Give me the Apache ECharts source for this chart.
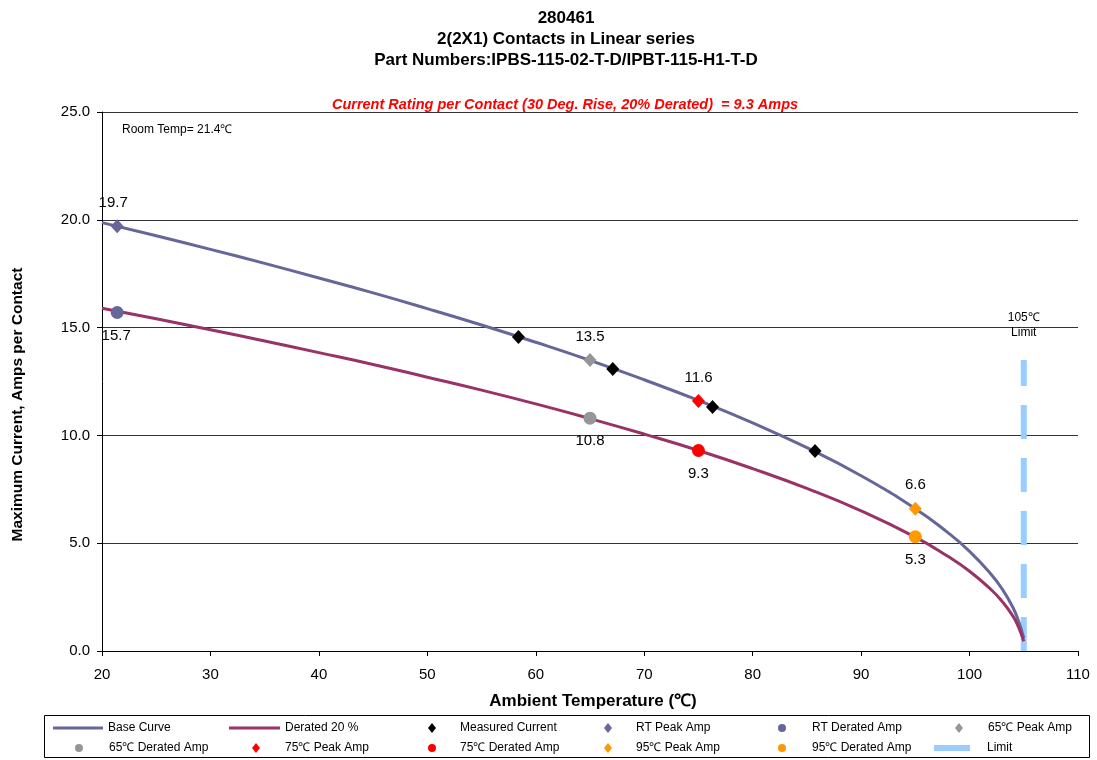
<!DOCTYPE html>
<html><head><meta charset="utf-8">
<script src="https://cdn.jsdelivr.net/npm/echarts@6/dist/echarts.min.js"></script>
<style>html,body{margin:0;padding:0;background:#fff}#c{width:1097px;height:760px}</style>
</head><body><div id="c"></div>
<script>
// ---- data ----
const curveTemps = [20,25,30,35,40,45,50,55,60,65,70,75,80,85,90,95,98,100,102,103,104,104.5,105];
const baseCurve = [19.87,19.26,18.63,17.98,17.30,16.61,15.88,15.12,14.32,13.48,12.58,11.62,10.58,9.43,8.13,6.6,5.49,4.62,3.55,2.88,2.02,1.41,0.6];
const deratedCurve = [15.9,15.41,14.9,14.38,13.84,13.29,12.7,12.1,11.46,10.78,10.06,9.3,8.46,7.54,6.5,5.28,4.39,3.7,2.84,2.3,1.62,1.13,0.45];
const measuredTemps = [58.4,67.1,76.3,85.75];
const measuredAmps = [14.56,13.08,11.32,9.28];
const rtPeak = [21.4,19.7];
const rtDerated = [21.4,15.7];
const peak65 = [65,13.5];
const derated65 = [65,10.8];
const peak75 = [75,11.6];
const derated75 = [75,9.3];
const peak95 = [95,6.6];
const derated95 = [95,5.3];
const limitX = 105;
const limitY = [0,13.5];
const xTicks = {min:20,max:110,interval:10};
const yTicks = {min:0,max:25,interval:5};

const zip = (xs, ys) => xs.map((x,i)=>[x, ys[i]]);
const FONT = 'Liberation Sans, Arial, sans-serif';
const NARROW = 'Liberation Sans Narrow, Arial Narrow, Liberation Sans, sans-serif';
const DIAMOND = [13,14];

function markerSeries(name, pt, symbol, size, color, labelPos, dist, dx){
  return {
    name, type:'scatter', data:[pt], symbol, symbolSize:size,
    itemStyle:{color, opacity:1},
    label:{show:true, position:labelPos, distance:dist, offset:[dx||0,0], color:'#000', fontSize:15, fontFamily:FONT,
      formatter: p => p.value[1].toFixed(1)},
    emphasis:{disabled:true},
    z:5
  };
}

const series = [
  {name:'Base Curve', type:'line', data:zip(curveTemps, baseCurve), smooth:true, symbol:'none',
   lineStyle:{color:'#666699', width:3}, itemStyle:{color:'#666699'}, z:3},
  {name:'Derated 20 %', type:'line', data:zip(curveTemps, deratedCurve), smooth:true, symbol:'none',
   lineStyle:{color:'#993366', width:3}, itemStyle:{color:'#993366'}, z:3},
  {name:'Measured Current', type:'scatter', data:zip(measuredTemps, measuredAmps), symbol:'diamond', symbolSize:DIAMOND,
   itemStyle:{color:'#000', opacity:1}, emphasis:{disabled:true}, z:4},
  markerSeries('RT Peak Amp', rtPeak, 'diamond', DIAMOND, '#666699', 'top', 9, -4),
  markerSeries('RT Derated Amp', rtDerated, 'circle', 13, '#666699', 'bottom', 9, -1),
  markerSeries('65℃ Peak Amp', peak65, 'diamond', DIAMOND, '#969696', 'top', 9),
  markerSeries('65℃ Derated Amp', derated65, 'circle', 13, '#969696', 'bottom', 9),
  markerSeries('75℃ Peak Amp', peak75, 'diamond', DIAMOND, '#FF0000', 'top', 9),
  markerSeries('75℃ Derated Amp', derated75, 'circle', 13, '#FF0000', 'bottom', 9),
  markerSeries('95℃ Peak Amp', peak95, 'diamond', DIAMOND, '#FF9900', 'top', 9),
  markerSeries('95℃ Derated Amp', derated95, 'circle', 13, '#FF9900', 'bottom', 9),
  {name:'Limit', type:'line', symbol:'circle', symbolSize:0.1, showSymbol:true,
   data:[{value:[limitX, limitY[0]]},
         {value:[limitX, limitY[1]], label:{show:true, position:'top', distance:20, formatter:'105℃\nLimit',
           color:'#000', fontSize:12, lineHeight:15, fontFamily:FONT}}],
   lineStyle:{color:'#99CCFF', width:6, type:[34,19], cap:'butt'}, itemStyle:{color:'#99CCFF'}, z:2}
];

// legend layout: [name, iconLeft, centerY, icon, itemWidth, itemHeight, textStartX]
const legendLayout = [
  ['Base Curve', 53, 730, 'rect', 50, 3, 108],
  ['Derated 20 %', 229, 730, 'rect', 51, 3, 285],
  ['Measured Current', 428, 730, 'diamond', 8, 10, 460],
  ['RT Peak Amp', 604, 730, 'diamond', 8, 10, 636],
  ['RT Derated Amp', 778, 730, 'circle', 8, 8, 812],
  ['65℃ Peak Amp', 955, 730, 'diamond', 8, 10, 988],
  ['65℃ Derated Amp', 75, 750, 'circle', 8, 8, 109],
  ['75℃ Peak Amp', 252, 750, 'diamond', 8, 10, 285],
  ['75℃ Derated Amp', 428, 750, 'circle', 8, 8, 460],
  ['95℃ Peak Amp', 604, 750, 'diamond', 8, 10, 636],
  ['95℃ Derated Amp', 778, 750, 'circle', 8, 8, 812],
  ['Limit', 934, 750, 'rect', 36, 6, 987]
];
const legends = legendLayout.map(([name,left,cy,icon,w,h,tx]) => ({
  data:[{name, icon}], left, top: cy - 8, itemWidth:w, itemHeight:h, itemGap:0, padding:0,
  selectedMode:false, height:16,
  textStyle:{fontSize:12, fontFamily:NARROW, color:'#000', padding:[0,0,0,Math.max(0, tx - (left + w + 5))]}
}));

const chart = echarts.init(document.getElementById('c'), null, {renderer:'canvas'});
chart.setOption({
  animation:false,
  backgroundColor:'#fff',
  title:[
    {text:'280461\n2(2X1) Contacts in Linear series\nPart Numbers:IPBS-115-02-T-D/IPBT-115-H1-T-D',
     left:561, top:3, textAlign:'center',
     textStyle:{fontSize:17, fontWeight:'bold', fontFamily:FONT, color:'#000', lineHeight:21}},
    {text:'Current Rating per Contact (30 Deg. Rise, 20% Derated)  = 9.3 Amps',
     left:560, top:92, textAlign:'center',
     textStyle:{fontSize:14.5, fontWeight:'bold', fontStyle:'italic', fontFamily:FONT, color:'#FF0000'}}
  ],
  grid:{left:102, right:19, top:112, bottom:109, containLabel:false},
  xAxis:{type:'value', min:xTicks.min, max:xTicks.max, interval:xTicks.interval,
    name:'Ambient Temperature (℃)', nameLocation:'middle', nameGap:42,
    nameTextStyle:{fontSize:17, fontWeight:'bold', fontFamily:FONT, color:'#000', padding:[0,0,0,6]},
    axisLine:{lineStyle:{color:'#000', width:1}},
    axisTick:{show:true, inside:false, length:5, lineStyle:{color:'#000'}},
    axisLabel:{fontSize:15, fontFamily:FONT, color:'#000', margin:16},
    splitLine:{show:false}},
  yAxis:{type:'value', min:yTicks.min, max:yTicks.max, interval:yTicks.interval,
    name:'Maximum Current, Amps per Contact', nameLocation:'middle', nameGap:76,
    nameTextStyle:{fontSize:15.5, fontWeight:'bold', fontFamily:FONT, color:'#000', padding:[0,46,0,0]},
    axisLine:{show:true, lineStyle:{color:'#000', width:1}},
    axisTick:{show:true, inside:false, length:5, lineStyle:{color:'#000'}},
    axisLabel:{fontSize:15, fontFamily:FONT, color:'#000', margin:12, formatter:v=>v.toFixed(1)},
    splitLine:{show:true, lineStyle:{color:'#333', width:1}}},
  legend: legends,
  graphic:[
    {type:'rect', shape:{x:44.5, y:715.5, width:1045, height:42}, style:{fill:'none', stroke:'#000', lineWidth:1}, z:-1},
    {type:'text', left:122, top:124, style:{text:'Room Temp= 21.4℃', fontSize:12, fontFamily:FONT, fill:'#000'}}
  ],
  series
});
</script></body></html>
